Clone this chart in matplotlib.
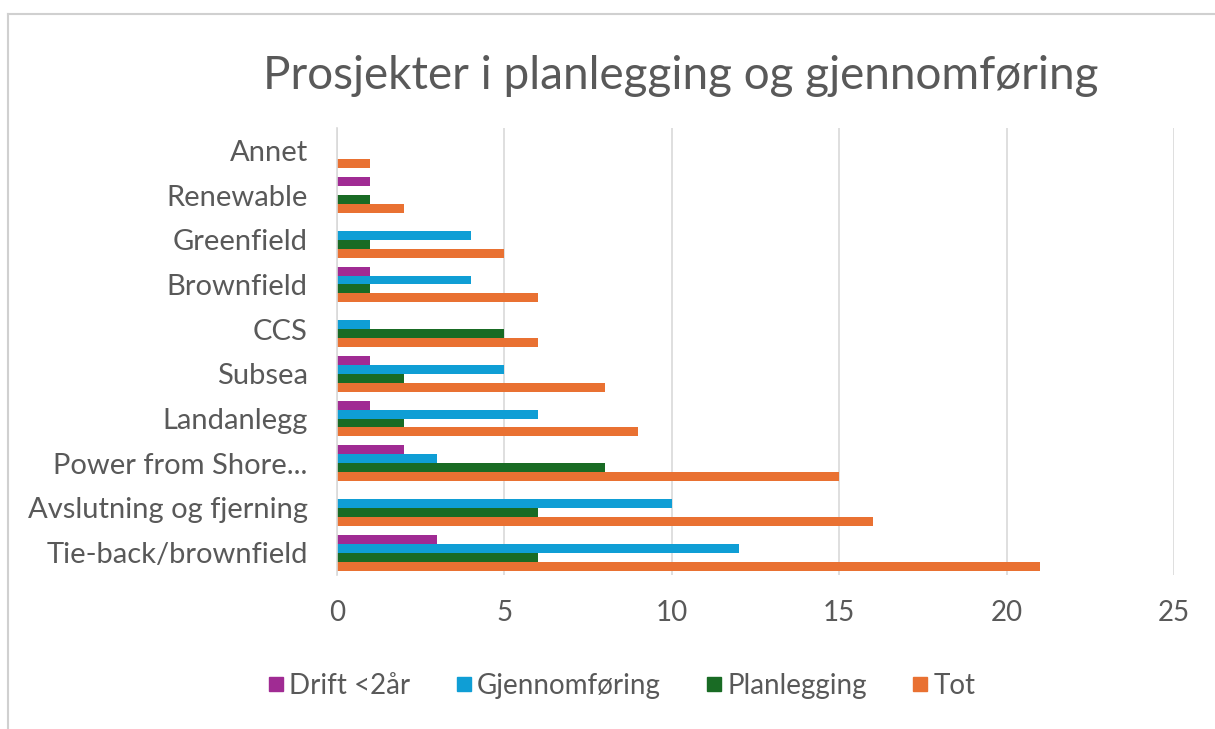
import numpy as np
import matplotlib
matplotlib.use('Agg')
import matplotlib.pyplot as plt
from matplotlib.lines import Line2D

categories = ['Tie-back/brownfield', 'Avslutning og fjerning', 'Power from Shore...',
              'Landanlegg', 'Subsea', 'CCS', 'Brownfield', 'Greenfield', 'Renewable', 'Annet']
drift = [3, 0, 2, 1, 1, 0, 1, 0, 1, 0]
gjennomforing = [12, 10, 3, 6, 5, 1, 4, 4, 0, 0]
planlegging = [6, 6, 8, 2, 2, 5, 1, 1, 1, 0]
tot = [21, 16, 15, 9, 8, 6, 6, 5, 2, 1]
series_names = ['Drift <2år', 'Gjennomføring', 'Planlegging', 'Tot']
colors = ['#A02B93', '#0F9ED5', '#196B24', '#E97132']

plt.rcParams['font.family'] = ['Lato', 'DejaVu Sans']
textc = '#595959'

fig = plt.figure(figsize=(12.15, 7.29), dpi=100)
ax = fig.add_axes([337 / 1215, 1 - 575 / 729, (1174 - 337) / 1215, (575 - 128) / 729])

y = np.arange(len(categories))
h = 0.2
data = [drift, gjennomforing, planlegging, tot]
offsets = [1.5 * h, 0.5 * h, -0.5 * h, -1.5 * h]
for vals, off, c, name in zip(data, offsets, colors, series_names):
    ax.barh(y + off, vals, height=h, color=c, label=name, zorder=3)

ax.set_xlim(0, 25)
ax.set_ylim(-0.5, len(categories) - 0.5)
ax.set_xticks([0, 5, 10, 15, 20, 25])
ax.set_yticks(y)
ax.set_yticklabels(categories)
ax.tick_params(axis='both', length=0, labelcolor=textc)
ax.tick_params(axis='x', pad=18, labelsize=20)
ax.tick_params(axis='y', pad=21, labelsize=21)
ax.grid(axis='x', color='#D9D9D9', linewidth=1.2, zorder=0)
for s in ['top', 'right', 'bottom']:
    ax.spines[s].set_visible(False)
ax.spines['left'].set_color('#D9D9D9')
ax.spines['left'].set_linewidth(1.2)
ax.spines['left'].set_zorder(4)

fig.text(681 / 1215, 1 - 76 / 729, 'Prosjekter i planlegging og gjennomføring',
         ha='center', va='center', fontsize=33, color=textc)

handles = [Line2D([], [], marker='s', linestyle='none', markersize=9.5,
                  markerfacecolor=c, markeredgecolor=c) for c in colors]
fig.legend(handles, series_names, loc='center', bbox_to_anchor=(622 / 1215, 1 - 686 / 729),
           ncol=4, frameon=False, fontsize=20, labelcolor=textc, handletextpad=0.2,
           columnspacing=1.65, handlelength=0.55)

# thin frame around the chart area
fig.add_artist(Line2D([8 / 1215, 8 / 1215], [0, 1 - 14 / 729], transform=fig.transFigure,
                      color='#D0D0D0', linewidth=1.5))
fig.add_artist(Line2D([8 / 1215, 1], [1 - 14 / 729, 1 - 14 / 729], transform=fig.transFigure,
                      color='#D0D0D0', linewidth=1.5))

fig.savefig('out.png', dpi=100)
